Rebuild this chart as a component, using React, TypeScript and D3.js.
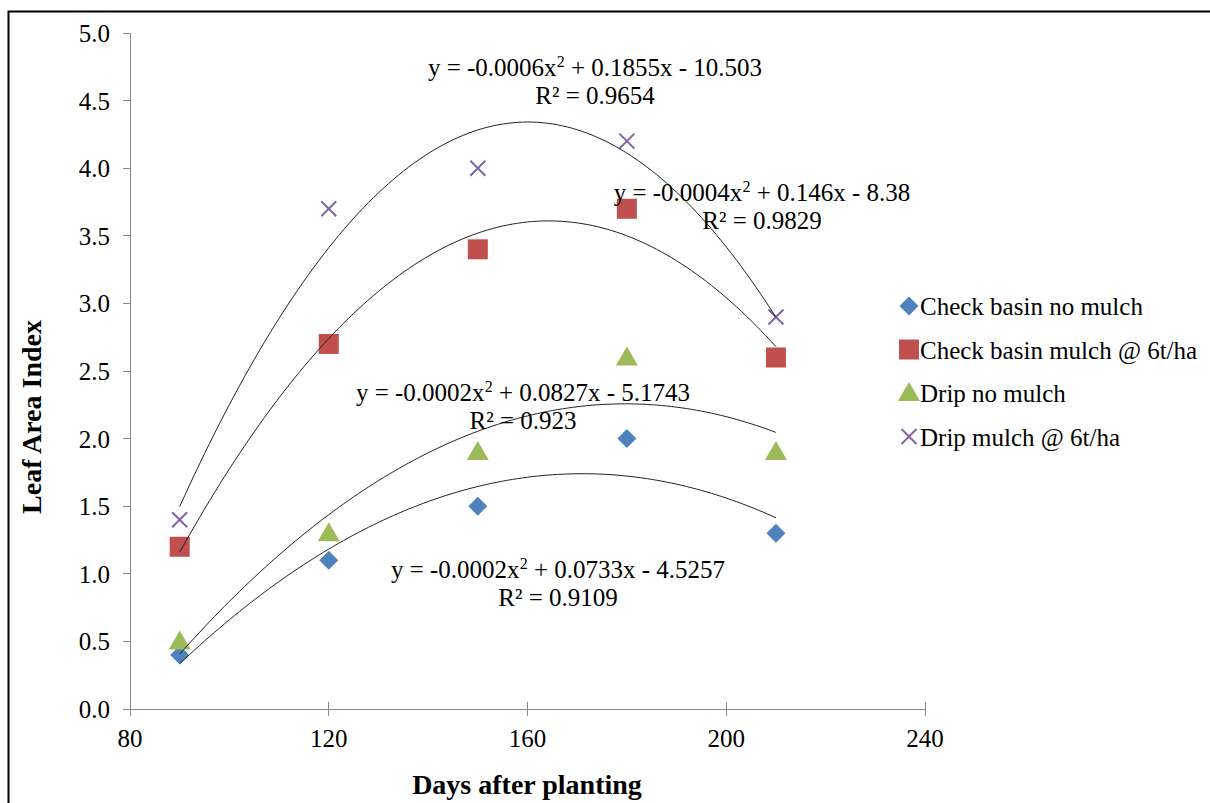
import * as d3 from 'd3'

const days = [90, 120, 150, 180, 210]
const checkNoMulch = [0.4, 1.1, 1.5, 2.0, 1.3]
const checkMulch = [1.2, 2.7, 3.4, 3.7, 2.6]
const dripNoMulch = [0.5, 1.3, 1.9, 2.6, 1.9]
const dripMulch = [1.4, 3.7, 4.0, 4.2, 2.9]

const seriesNames = [
    'Check basin no mulch',
    'Check basin mulch @ 6t/ha',
    'Drip no mulch',
    'Drip mulch @ 6t/ha'
]
const equations = [
    ['-0.0002', '0.0733', '4.5257', '0.9109'],
    ['-0.0004', '0.146', '8.38', '0.9829'],
    ['-0.0002', '0.0827', '5.1743', '0.923'],
    ['-0.0006', '0.1855', '10.503', '0.9654']
]
const xTicks = [80, 120, 160, 200, 240]
const yTicks = [0, 0.5, 1, 1.5, 2, 2.5, 3, 3.5, 4, 4.5, 5]

const colors = ['#4F81BD', '#C0504D', '#9BBB59', '#8064A2']
const shapes = ['diamond', 'square', 'triangle', 'cross']
const allSeries = [checkNoMulch, checkMulch, dripNoMulch, dripMulch]
// where each equation label sits (center x, baseline y)
const eqPos = [
    [558, 578],
    [762, 201],
    [523, 401],
    [595, 76]
]

const W = 1210
const H = 803
const font = '"Liberation Serif", "Times New Roman", serif'

// least squares quadratic fit, like excel's poly trendline
function quadFit(xs, ys) {
    const n = xs.length
    let s = [0, 0, 0, 0, 0]
    let t = [0, 0, 0]
    for (let i = 0; i < n; i++) {
        for (let k = 0; k < 5; k++) s[k] += Math.pow(xs[i], k)
        for (let k = 0; k < 3; k++) t[k] += ys[i] * Math.pow(xs[i], k)
    }
    const A = [
        [s[0], s[1], s[2], t[0]],
        [s[1], s[2], s[3], t[1]],
        [s[2], s[3], s[4], t[2]]
    ]
    for (let c = 0; c < 3; c++) {
        for (let r = c + 1; r < 3; r++) {
            const f = A[r][c] / A[c][c]
            for (let k = c; k < 4; k++) A[r][k] -= f * A[c][k]
        }
    }
    const b = [0, 0, 0]
    for (let r = 2; r >= 0; r--) {
        let v = A[r][3]
        for (let k = r + 1; k < 3; k++) v -= A[r][k] * b[k]
        b[r] = v / A[r][r]
    }
    return (x) => b[0] + b[1] * x + b[2] * x * x
}

const Marker = ({ shape, color, x, y }) => {
    if (shape === 'diamond')
        return <path d={`M${x},${y - 9.5}L${x + 9.5},${y}L${x},${y + 9.5}L${x - 9.5},${y}Z`} fill={color} />
    if (shape === 'square')
        return <rect x={x - 10} y={y - 10} width={20} height={20} fill={color} />
    if (shape === 'triangle')
        return <path d={`M${x},${y - 11}L${x + 11},${y + 8}L${x - 11},${y + 8}Z`} fill={color} />
    return (
        <path
            d={`M${x - 7.5},${y - 7.5}L${x + 7.5},${y + 7.5}M${x + 7.5},${y - 7.5}L${x - 7.5},${y + 7.5}`}
            stroke={color}
            strokeWidth={2}
            fill="none"
        />
    )
}

const Equation = ({ eq, x, y }) => (
    <g fontFamily={font} fontSize={25} fill="#000" textAnchor="middle">
        <text x={x} y={y}>
            {`y = ${eq[0]}x`}
            <tspan fontSize={16} dy={-9}>2</tspan>
            <tspan dy={9}>{` + ${eq[1]}x - ${eq[2]}`}</tspan>
        </text>
        <text x={x} y={y + 28}>{`R² = ${eq[3]}`}</text>
    </g>
)

export default function App() {
    const x = d3.scaleLinear().domain([80, 240]).range([130, 925])
    const y = d3.scaleLinear().domain([0, 5]).range([709, 33])
    const line = d3.line().curve(d3.curveMonotoneX)
    const fitX = d3.range(90, 210.01, 1)

    return (
        <svg width={W} height={H} style={{ position: 'absolute', left: 0, top: 0 }}>
            <rect x={0} y={0} width={W} height={H} fill="#fff" />
            <rect x={8.5} y={11.5} width={W} height={H} fill="none" stroke="#000" strokeWidth={2} />

            {/* axes */}
            <g stroke="#888" strokeWidth={1} shapeRendering="crispEdges">
                <line x1={x(80)} x2={x(240)} y1={y(0)} y2={y(0)} />
                <line x1={x(80)} x2={x(80)} y1={y(0)} y2={y(5)} />
                {yTicks.map((t) => (
                    <line key={t} x1={x(80) - 7} x2={x(80)} y1={y(t)} y2={y(t)} />
                ))}
                {xTicks.map((t) => (
                    <line key={t} x1={x(t)} x2={x(t)} y1={y(0) - 7} y2={y(0) + 7} />
                ))}
            </g>
            <g fontFamily={font} fontSize={25} fill="#000">
                {yTicks.map((t) => (
                    <text key={t} x={x(80) - 20} y={y(t) + 9} textAnchor="end">
                        {t.toFixed(1)}
                    </text>
                ))}
                {xTicks.map((t) => (
                    <text key={t} x={x(t)} y={y(0) + 38} textAnchor="middle">
                        {t}
                    </text>
                ))}
            </g>
            <text
                x={527}
                y={794}
                textAnchor="middle"
                fontFamily={font}
                fontSize={28}
                fontWeight="bold"
            >
                Days after planting
            </text>
            <text
                transform={`translate(41,417) rotate(-90)`}
                textAnchor="middle"
                fontFamily={font}
                fontSize={28}
                fontWeight="bold"
            >
                Leaf Area Index
            </text>

            {/* markers */}
            {allSeries.map((vals, si) => (
                <g key={si}>
                    {vals.map((v, i) => (
                        <Marker key={i} shape={shapes[si]} color={colors[si]} x={x(days[i])} y={y(v)} />
                    ))}
                </g>
            ))}

            {/* trendlines */}
            {allSeries.map((vals, si) => {
                const f = quadFit(days, vals)
                return (
                    <path
                        key={si}
                        d={line(fitX.map((d) => [x(d), y(f(d))]))}
                        fill="none"
                        stroke="#222"
                        strokeWidth={1}
                    />
                )
            })}

            {equations.map((eq, i) => (
                <Equation key={i} eq={eq} x={eqPos[i][0]} y={eqPos[i][1]} />
            ))}

            {/* legend */}
            {seriesNames.map((name, i) => (
                <g key={name}>
                    <Marker shape={shapes[i]} color={colors[i]} x={909} y={306 + i * 43.5} />
                    <text x={920} y={306 + i * 43.5 + 9} fontFamily={font} fontSize={25}>
                        {name}
                    </text>
                </g>
            ))}
        </svg>
    )
}
